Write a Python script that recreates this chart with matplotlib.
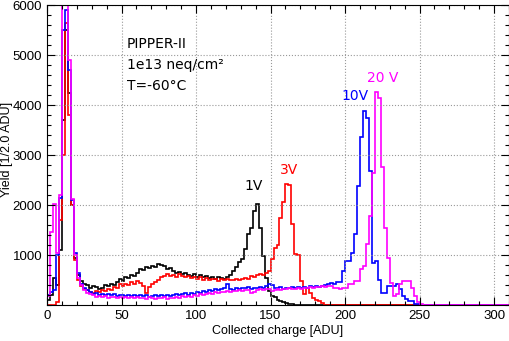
import matplotlib
matplotlib.use('Agg')
import matplotlib.pyplot as plt
import numpy as np
from matplotlib.ticker import MultipleLocator, FixedLocator

BIN_WIDTH = 2  # ADU per bin
N_BINS = 155   # 0 .. 310 ADU

# yield per 2 ADU bin, starting at 0 ADU
yield_1v = [100, 200, 550, 400, 1100, 3700, 5500, 4250, 2000, 950,
            600, 480, 430, 400, 350, 380, 360, 330, 350, 400,
            380, 430, 400, 470, 520, 490, 560, 540, 600, 580,
            650, 720, 700, 760, 740, 790, 770, 820, 800, 780,
            720, 740, 690, 640, 660, 620, 640, 600, 580, 620,
            570, 600, 560, 590, 550, 570, 530, 560, 540, 520,
            560, 600, 680, 760, 860, 920, 1130, 1430, 1550, 1880,
            2030, 1550, 985, 550, 280, 180, 170, 110, 80, 60,
            40, 30, 20, 10, 5]
yield_3v = [0, 0, 0, 60, 1700, 3000, 5650, 3800, 2000, 900,
            500, 380, 320, 300, 270, 250, 280, 260, 300, 290,
            330, 310, 360, 340, 420, 380, 430, 400, 470, 430,
            480, 450, 380, 240, 360, 420, 460, 500, 560, 590,
            620, 580, 600, 570, 620, 590, 560, 580, 540, 560,
            520, 560, 510, 540, 500, 520, 530, 490, 520, 500,
            530, 510, 500, 520, 500, 520, 550, 520, 580, 560,
            600, 620, 600, 640, 680, 920, 1150, 1200, 1750, 2060,
            2430, 2400, 1630, 1020, 1000, 480, 220, 350, 250, 150,
            100, 80, 40]
yield_10v = [200, 270, 300, 1000, 2150, 5500, 5900, 4700, 2100, 1050,
             650, 420, 350, 300, 260, 230, 250, 210, 220, 200,
             230, 200, 220, 190, 210, 200, 180, 210, 190, 200,
             180, 210, 190, 200, 170, 190, 210, 180, 200, 190,
             210, 180, 200, 230, 200, 220, 240, 210, 240, 220,
             260, 240, 280, 260, 310, 290, 330, 300, 320, 340,
             420, 330, 310, 340, 320, 350, 340, 360, 330, 350,
             340, 370, 350, 380, 420, 410, 350, 340, 360, 330,
             350, 340, 360, 350, 370, 340, 360, 350, 380, 370,
             390, 360, 380, 400, 420, 450, 420, 470, 470, 680,
             880, 880, 1050, 1420, 2390, 3360, 3890, 3740, 2690, 850,
             880, 500, 250, 250, 380, 380, 380, 420, 320, 180,
             120, 80, 80, 30, 30]
yield_20v = [180, 1470, 2030, 1050, 2200, 6500, 6500, 4900, 2130, 1000,
             550, 400, 300, 250, 220, 200, 170, 190, 160, 180,
             150, 170, 160, 140, 170, 150, 160, 140, 170, 150,
             160, 140, 150, 130, 160, 140, 130, 150, 140, 160,
             130, 150, 140, 170, 150, 180, 160, 190, 170, 200,
             190, 220, 200, 230, 250, 230, 260, 250, 270, 260,
             280, 270, 290, 280, 300, 290, 310, 300, 250, 270,
             300, 320, 310, 330, 320, 280, 300, 320, 310, 330,
             320, 340, 330, 320, 340, 330, 350, 340, 360, 350,
             370, 360, 380, 370, 390, 380, 340, 340, 330, 340,
             340, 420, 420, 480, 480, 720, 790, 1220, 1790, 2640,
             4270, 4140, 2760, 1550, 950, 450, 180, 220, 420, 480,
             480, 480, 340, 180, 60, 30, 10]

series = [
    (yield_1v, 'black', '1V', 138.9, 2380),
    (yield_3v, '#ff0000', '3V', 162.4, 2700),
    (yield_10v, '#0000ff', '10V', 206.4, 4190),
    (yield_20v, '#ff00ff', '20 V', 225.2, 4540),
]

plt.rcParams['font.family'] = ['Liberation Sans', 'DejaVu Sans']

fig = plt.figure(figsize=(5.10, 3.41), dpi=100)
ax = fig.add_axes([47 / 510, 36 / 341, 462 / 510, 300 / 341])

edges = np.arange(N_BINS + 1) * BIN_WIDTH
for vals, color, label, lx, ly in series:
    vals = list(vals) + [0] * (N_BINS - len(vals))
    ax.stairs(vals, edges, color=color, linewidth=1.2, baseline=None)
    ax.text(lx, ly, label, color=color, fontsize=10, ha='center', va='center',
            family='DejaVu Sans')

ax.set_xlim(0, 310)
ax.set_ylim(0, 6000)
ax.xaxis.set_major_locator(FixedLocator([0, 50, 100, 150, 200, 250, 300]))
ax.xaxis.set_minor_locator(MultipleLocator(10))
ax.yaxis.set_major_locator(FixedLocator([1000, 2000, 3000, 4000, 5000, 6000]))
ax.yaxis.set_minor_locator(MultipleLocator(200))
ax.tick_params(which='both', direction='in', top=True, right=True, labelsize=9.5)
ax.tick_params(which='major', length=6, width=0.8)
ax.tick_params(which='minor', length=3, width=0.8)
ax.grid(True, which='major', linestyle=':', color='#999999', linewidth=0.8)

ax.set_xlabel('Collected charge [ADU]', fontsize=9, labelpad=2)
ax.set_ylabel('Yield [1/2.0 ADU]', fontsize=9)
ax.yaxis.set_label_coords(-0.074, 0.52)

ax.text(53.7, 5220, 'PIPPER-II', fontsize=10, va='center', family='DejaVu Sans')
ax.text(53.7, 4800, '1e13 neq/cm²', fontsize=10, va='center', family='DejaVu Sans')
ax.text(53.7, 4380, 'T=-60°C', fontsize=10, va='center', family='DejaVu Sans')

plt.savefig('out.png', dpi=100)
